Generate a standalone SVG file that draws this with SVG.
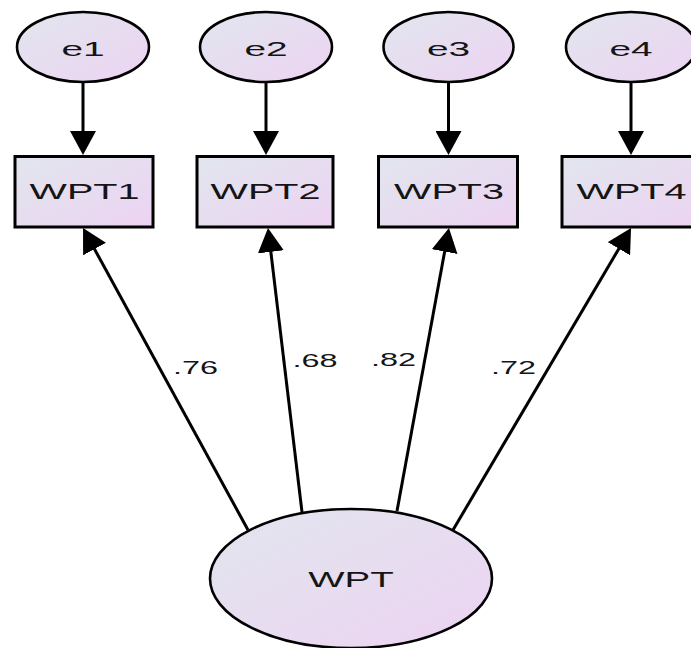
<svg xmlns="http://www.w3.org/2000/svg" width="691" height="648" viewBox="0 0 691 648">
  <style>
    .shape { fill: url(#nodeFill); stroke: #000; }
    .ell { stroke-width: 2.6; }
    .box { stroke-width: 3; }
    .lbl { font-family: "Liberation Sans", Arial, sans-serif; fill: #151515; text-anchor: middle; }
    .link { stroke: #000; stroke-width: 3; fill: none; marker-end: url(#head); }
  </style>
  <defs>
    <linearGradient id="nodeFill" x1="0" y1="0" x2="1" y2="1">
      <stop offset="0" stop-color="#e1e6ee"/>
      <stop offset="1" stop-color="#edd3f2"/>
    </linearGradient>
    <marker id="head" markerUnits="userSpaceOnUse" viewBox="0 0 24 26" refX="18" refY="13" markerWidth="24" markerHeight="26" orient="auto">
      <path d="M0,0 L24,13 L0,26 Z" fill="#000"/>
    </marker>
  </defs>

  <!-- paths: error terms to indicators, latent factor to indicators -->
  <g id="connectors">
    <line class="link" x1="83" y1="82" x2="83" y2="149"/>
    <line class="link" x1="266" y1="82" x2="266" y2="149"/>
    <line class="link" x1="448.5" y1="82" x2="448.5" y2="149"/>
    <line class="link" x1="631" y1="82" x2="631" y2="149"/>

    <line class="link" x1="248" y1="530" x2="85.9" y2="233.3"/>
    <line class="link" x1="302" y1="512" x2="268.7" y2="234"/>
    <line class="link" x1="397" y1="511" x2="447.9" y2="233.9"/>
    <line class="link" x1="453" y1="530" x2="628" y2="233.2"/>

    <g class="lbl" font-size="18">
      <text transform="matrix(1.8,0,0,1,195.5,374)">.76</text>
      <text transform="matrix(1.8,0,0,1,315,367)">.68</text>
      <text transform="matrix(1.8,0,0,1,393.5,366)">.82</text>
      <text transform="matrix(1.8,0,0,1,513.5,374)">.72</text>
    </g>
  </g>

  <!-- error terms -->
  <g id="e1">
    <ellipse class="shape ell" cx="83" cy="47" rx="66" ry="35"/>
    <text class="lbl" font-size="21" transform="matrix(1.85,0,0,1,83,55.5)">e1</text>
  </g>
  <g id="e2">
    <ellipse class="shape ell" cx="266" cy="47" rx="66" ry="35"/>
    <text class="lbl" font-size="21" transform="matrix(1.85,0,0,1,266,55.5)">e2</text>
  </g>
  <g id="e3">
    <ellipse class="shape ell" cx="448.5" cy="47" rx="65" ry="35"/>
    <text class="lbl" font-size="21" transform="matrix(1.85,0,0,1,448.5,55.5)">e3</text>
  </g>
  <g id="e4">
    <ellipse class="shape ell" cx="631" cy="47" rx="65" ry="35"/>
    <text class="lbl" font-size="21" transform="matrix(1.85,0,0,1,631,55.5)">e4</text>
  </g>

  <!-- observed indicators -->
  <g id="WPT1">
    <rect class="shape box" x="15" y="156.5" width="138" height="70.5"/>
    <text class="lbl" font-size="22" transform="matrix(1.8,0,0,1,84.5,199)">WPT1</text>
  </g>
  <g id="WPT2">
    <rect class="shape box" x="197" y="156.5" width="136" height="70.5"/>
    <text class="lbl" font-size="22" transform="matrix(1.8,0,0,1,265.5,199)">WPT2</text>
  </g>
  <g id="WPT3">
    <rect class="shape box" x="378.5" y="156.5" width="139" height="70.5"/>
    <text class="lbl" font-size="22" transform="matrix(1.8,0,0,1,449,199)">WPT3</text>
  </g>
  <g id="WPT4">
    <rect class="shape box" x="562" y="156.5" width="138" height="70.5"/>
    <text class="lbl" font-size="22" transform="matrix(1.8,0,0,1,631.5,199)">WPT4</text>
  </g>

  <!-- latent factor -->
  <g id="WPT">
    <ellipse class="shape ell" cx="351" cy="578.5" rx="141" ry="69.5"/>
    <text class="lbl" font-size="22" transform="matrix(1.75,0,0,1,351,587)">WPT</text>
  </g>
</svg>
